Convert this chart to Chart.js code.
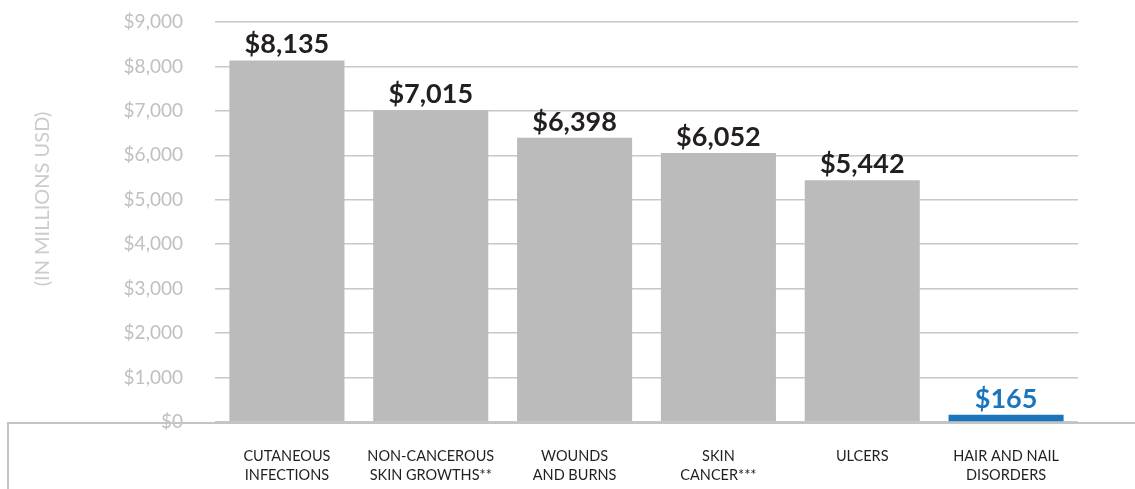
<!DOCTYPE html>
<html>
<head>
<meta charset="utf-8">
<script src="https://cdn.jsdelivr.net/npm/chart.js@4"></script>
<style>
  html, body { margin: 0; padding: 0; background: #fff; }
  #wrap { width: 1135px; height: 489px; position: relative; }
</style>
</head>
<body>
<div id="wrap"><canvas id="chart"></canvas></div>
<script>
// data
const categories = [
    ['CUTANEOUS', 'INFECTIONS'],
    ['NON-CANCEROUS', 'SKIN GROWTHS**'],
    ['WOUNDS', 'AND BURNS'],
    ['SKIN', 'CANCER***'],
    ['ULCERS'],
    ['HAIR AND NAIL', 'DISORDERS']
];
const costs = [8135, 7015, 6398, 6052, 5442, 165];
const barColors = ['#bcbbbc', '#bcbbbc', '#bcbbbc', '#bcbbbc', '#bcbbbc', '#1b75bc'];
const labelColors = ['#231f20', '#231f20', '#231f20', '#231f20', '#231f20', '#1b75bc'];
const yTitle = '(IN MILLIONS USD)';

const fontFamily = 'Lato, "Noto Sans", sans-serif';

function money(v) {
    return '$' + Number(v).toLocaleString('en-US');
}

// value labels above bars, axis title, frame line at bottom
const extras = {
    id: 'extras',
    afterDatasetsDraw(chart) {
        const c = chart.ctx;
        const meta = chart.getDatasetMeta(0);
        c.save();
        c.font = 'bold 27px ' + fontFamily;
        c.textAlign = 'center';
        c.textBaseline = 'alphabetic';
        meta.data.forEach((bar, i) => {
            c.fillStyle = labelColors[i];
            c.fillText(money(costs[i]), bar.x, bar.y - 7);
        });

        // bottom frame
        const bottom = chart.chartArea.bottom;
        c.strokeStyle = '#c4c4c4';
        c.lineWidth = 2;
        c.beginPath();
        c.moveTo(8, chart.height);
        c.lineTo(8, bottom + 1);
        c.lineTo(chart.width, bottom + 1);
        c.stroke();

        // rotated axis title
        c.translate(43, 199);
        c.rotate(-Math.PI / 2);
        c.font = '20px ' + fontFamily;
        c.fillStyle = '#cccccc';
        c.textAlign = 'center';
        c.textBaseline = 'middle';
        c.fillText(yTitle, 0, 0);
        c.restore();
    }
};

new Chart(document.getElementById('chart'), {
    type: 'bar',
    data: {
        labels: categories,
        datasets: [{
            data: costs,
            backgroundColor: barColors,
            categoryPercentage: 0.8,
            barPercentage: 1.0
        }]
    },
    options: {
        responsive: true,
        maintainAspectRatio: false,
        animation: false,
        layout: { padding: { top: 22, right: 57, left: 0, bottom: 0 } },
        plugins: {
            legend: { display: false },
            tooltip: { enabled: false }
        },
        scales: {
            x: {
                grid: { display: false },
                border: { display: false },
                ticks: {
                    color: '#231f20',
                    font: { family: fontFamily, size: 14.5, lineHeight: 1.3 },
                    padding: 17,
                    maxRotation: 0
                },
                afterFit(scale) { scale.height = 67; }
            },
            y: {
                min: 0,
                max: 9000,
                ticks: {
                    stepSize: 1000,
                    color: '#c0c0c0',
                    font: { family: fontFamily, size: 19 },
                    padding: 32,
                    callback: v => money(v)
                },
                grid: { color: '#c8c8c8', lineWidth: 1.5, drawTicks: false },
                border: { display: false },
                afterFit(scale) {
                    scale.width = 215;
                    scale.paddingTop = 0;
                    scale.paddingBottom = 0;
                }
            }
        }
    },
    plugins: [extras]
});
</script>
</body>
</html>
